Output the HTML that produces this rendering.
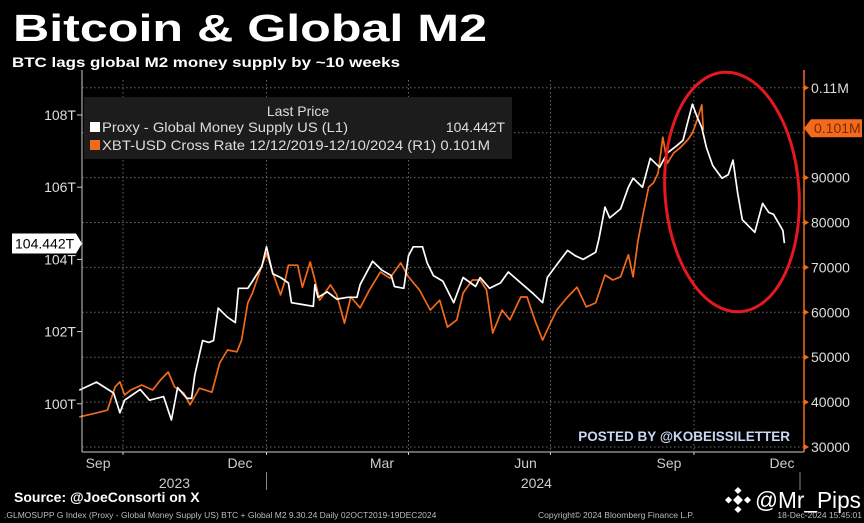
<!DOCTYPE html>
<html><head><meta charset="utf-8"><style>
html,body{margin:0;padding:0;background:#000;}
svg{display:block;}
text{font-family:"Liberation Sans","DejaVu Sans",sans-serif;}
</style></head><body>
<svg id="chart" width="864" height="523" viewBox="0 0 864 523" xmlns="http://www.w3.org/2000/svg">
<rect x="0" y="0" width="864" height="523" fill="#000"/>
<text x="13" y="41" fill="#fff" font-family="DejaVu Sans" font-weight="bold" font-size="38" textLength="474" lengthAdjust="spacingAndGlyphs">Bitcoin &amp; Global M2</text>
<text x="12" y="67" fill="#fff" font-family="DejaVu Sans" font-weight="bold" font-size="14" textLength="388" lengthAdjust="spacingAndGlyphs">BTC lags global M2 money supply by ~10 weeks</text>
<g id="grid"></g>
<rect x="84" y="97" width="428" height="62" fill="#1c1c1c"/>
<text x="298" y="116" fill="#ddd" font-size="14" text-anchor="middle">Last Price</text>
<rect x="90" y="122" width="10" height="10" fill="#fff"/>
<text x="102" y="132" fill="#ddd" font-size="14" textLength="246" lengthAdjust="spacingAndGlyphs">Proxy - Global Money Supply US  (L1)</text>
<text x="505" y="132" fill="#ddd" font-size="14" text-anchor="end">104.442T</text>
<rect x="90" y="140" width="10" height="10" fill="#f26a1b"/>
<text x="102" y="150" fill="#ddd" font-size="14" textLength="388" lengthAdjust="spacingAndGlyphs">XBT-USD Cross Rate 12/12/2019-12/10/2024   (R1) 0.101M</text>
<g id="series"></g>
<g id="axes"></g>
<ellipse cx="732" cy="192" rx="67" ry="120" fill="none" stroke="#e3191f" stroke-width="3" transform="rotate(-4 732 192)"/>
<text x="790" y="441" fill="#c9d8f5" font-size="13.5" font-weight="bold" text-anchor="end">POSTED BY @KOBEISSILETTER</text>
<text x="14" y="502" fill="#fff" font-family="DejaVu Sans" font-weight="bold" font-size="14">Source: @JoeConsorti on X</text>
<text x="4" y="518" fill="#bbb" font-size="8.5">.GLMOSUPP G Index (Proxy - Global Money Supply US) BTC + Global M2 9.30.24  Daily 02OCT2019-19DEC2024</text>
<text x="538" y="518" fill="#bbb" font-size="8.5">Copyright© 2024 Bloomberg Finance L.P.</text>
<text x="862" y="518" fill="#bbb" font-size="8.5" text-anchor="end">18-Dec-2024 15:45:01</text>
<g transform="translate(738,500)" fill="#fff">
<rect x="-3.5" y="-3.5" width="7" height="7" transform="rotate(45)"/>
<rect x="-12" y="-2.5" width="5" height="5" transform="rotate(45 -9.5 0)"/>
<rect x="7" y="-2.5" width="5" height="5" transform="rotate(45 9.5 0)"/>
<rect x="-2.5" y="-12" width="5" height="5" transform="rotate(45 0 -9.5)"/>
<rect x="-2.5" y="7" width="5" height="5" transform="rotate(45 0 9.5)"/>
</g>
<text x="755" y="508" fill="#fff" font-size="23" textLength="106" lengthAdjust="spacingAndGlyphs">@Mr_Pips</text>
</svg>
<script>
// M2 series (days since 1-Oct-2023, trillions USD)
const m2Days = [-28,-17,-6,-2,1,11,17,26,31,35,41,44,46,51,55,58,61,67,72,74,80,83,89,92,96,101,106,108,115,122,123,125,131,137,144,150,152,160,166,172,174,180,183,186,192,195,199,205,212,218,226,229,235,242,247,255,263,269,272,278,285,290,295,303,305,307,309,312,319,324,327,333,338,344,349,355,359,365,368,371,374,378,384,388,391,394,397,405,410,414,417,423,424];
const m2Vals = [100.38,100.6,100.3,99.75,100.1,100.4,100.1,100.2,99.55,100.45,100.15,100.15,100.8,101.75,101.7,101.75,102.65,102.4,102.25,103.2,103.2,103.4,103.8,104.35,103.6,103.5,103.35,102.8,102.75,102.7,103.3,102.95,103.1,102.9,102.95,102.95,103.3,103.95,103.7,103.55,103.25,103.2,104.1,104.35,104.35,103.9,103.55,103.4,102.8,103.5,103.25,103.5,103.2,103.35,103.65,103.35,103.05,102.8,103.5,103.85,104.25,104.1,104.0,104.2,104.55,105.0,105.45,105.15,105.4,106.0,106.25,106.0,106.8,106.55,106.95,107.15,107.3,108.3,107.95,107.65,107.1,106.6,106.25,106.35,106.75,105.85,105.1,104.75,105.55,105.3,105.25,104.8,104.45];
// BTC series (days since 1-Oct-2023 shifted by lag, thousands USD)
const btcDays = [-28,-17,-10,-5,-2,1,5,12,19,24,29,33,39,43,49,57,62,67,73,76,80,83,88,92,96,101,104,106,112,115,120,123,126,133,137,142,146,152,158,165,171,178,183,190,197,203,208,214,218,224,229,233,237,243,248,255,259,264,269,272,278,285,291,297,303,309,314,319,324,327,330,333,337,340,343,346,349,353,357,362,365,368,371,372];
const btcVals = [36.7,37.6,38.2,43.4,44.5,41.6,42.7,43.8,42.7,44.9,46.7,43.4,42.0,39.4,43.1,42.2,48.7,51.6,51.2,53.8,62.1,64.3,69.4,73.2,68.8,63.9,67.2,70.5,70.5,65.6,71.2,67.2,62.7,66.1,63.9,57.6,63.4,61.0,65.0,69.0,67.6,71.0,67.9,65.0,60.5,62.7,56.7,58.3,64.3,67.2,67.2,65.0,55.4,60.5,58.3,63.4,63.4,58.3,53.8,56.1,60.5,63.4,65.6,61.2,62.1,68.3,67.2,67.9,72.8,67.9,75.7,81.2,87.9,88.8,91.0,99.0,93.2,95.5,96.6,98.4,99.9,102.8,106.2,100.6];
const leftTicks = [100,102,104,106,108];
const leftTickLabels = ["100T","102T","104T","106T","108T"];
const rightTicks = [30,40,50,60,70,80,90,110];
const rightTickLabels = ["30000","40000","50000","60000","70000","80000","90000","0.11M"];
const gridDays = [0,92,183,274,366];
const monthDays = [-16,75,166,258,350,441];
const monthLabels = ["Sep","Dec","Mar","Jun","Sep","Dec"];
const yearDays = [33,265];
const yearLabels = ["2023","2024"];
const lastM2Label = "104.442T";
const lastM2 = 104.442;
const lastBtcLabel = "0.101M";
const lastBtc = 101;

const X0=82, X1=804, YT=80, YB=452;
const xS = d => 123 + d*1.56;
const yL = v => 115 + (108 - v)*36.1;
const yR = v => 447 - (v - 30)*4.49;
const NS='http://www.w3.org/2000/svg';
function mk(tag, attrs, parent, txt){
  const e=document.createElementNS(NS,tag);
  for(const k in attrs) e.setAttribute(k, attrs[k]);
  if(txt!==undefined) e.textContent=txt;
  parent.appendChild(e); return e;
}
const grid=document.getElementById('grid'), ser=document.getElementById('series'), ax=document.getElementById('axes');
rightTicks.forEach(v=>{
  const l=mk('line',{x1:X0,x2:X1,y1:yR(v),y2:yR(v),stroke:'#6a6a6a','stroke-width':1,'stroke-dasharray':'1.5 2.5'},grid);
  
  
});
mk('line',{x1:X0,x2:X1,y1:yR(100),y2:yR(100),stroke:'#6a6a6a','stroke-width':1,'stroke-dasharray':'1.5 2.5'},grid);
gridDays.forEach(d=>{
  const l=mk('line',{x1:xS(d),x2:xS(d),y1:YT,y2:YB,stroke:'#6a6a6a','stroke-width':1,'stroke-dasharray':'1.5 2.5'},grid);
  
  
});
function line(days, vals, ys, color, name){
  const p=days.map((d,i)=>(i?'L':'M')+xS(d).toFixed(1)+','+ys(vals[i]).toFixed(1)).join('');
  const e=mk('path',{d:p,fill:'none',stroke:color,'stroke-width':1.7,'stroke-linejoin':'round'},ser);
  
  
}
line(btcDays,btcVals,yR,'#f26a1b','btc-line');
line(m2Days,m2Vals,yL,'#ffffff','m2-line');
let a=mk('line',{x1:X0,x2:X0,y1:YT-10,y2:YB,stroke:'#ccc','stroke-width':1},ax);
 
a=mk('line',{x1:X1,x2:X1,y1:YT-10,y2:YB,stroke:'#f26a1b','stroke-width':1.5},ax);
 
a=mk('line',{x1:X0,x2:X1,y1:YB,y2:YB,stroke:'#ccc','stroke-width':1},ax);
 
leftTicks.forEach((v,i)=>{
  mk('line',{x1:X0-5,x2:X0,y1:yL(v),y2:yL(v),stroke:'#ccc'},ax);
  const t=mk('text',{x:X0-6,y:yL(v)+5,fill:'#ddd','font-size':14,'text-anchor':'end'},ax,leftTickLabels[i]);
  
  
});
rightTicks.forEach((v,i)=>{
  mk('path',{d:`M${X1},${yR(v)-3}L${X1+5},${yR(v)}L${X1},${yR(v)+3}Z`,fill:'#f26a1b'},ax);
  const t=mk('text',{x:X1+7,y:yR(v)+5,fill:'#ddd','font-size':14},ax,rightTickLabels[i]);
  
  
});
monthDays.forEach((d,i)=>{
  const t=mk('text',{x:Math.min(xS(d),782),y:468,fill:'#ccc','font-size':14,'text-anchor':'middle'},ax,monthLabels[i]);
  
  
});
gridDays.forEach(d=>{ mk('line',{x1:xS(d),x2:xS(d),y1:YB,y2:YB+3,stroke:'#ccc'},ax); });
mk('line',{x1:xS(92),x2:xS(92),y1:YB+20,y2:YB+38,stroke:'#888'},ax);
mk('line',{x1:X1-4,x2:X1-4,y1:YB+20,y2:YB+38,stroke:'#888'},ax);
yearDays.forEach((d,i)=>{
  const t=mk('text',{x:xS(d),y:488,fill:'#ccc','font-size':14,'text-anchor':'middle'},ax,yearLabels[i]);
  
  
});
const yl=yL(lastM2);
let g=mk('path',{d:`M12,${yl-10}H76L82,${yl}L76,${yl+10}H12Z`,fill:'#fff'},ax);
 
let tt=mk('text',{x:15,y:yl+5,fill:'#000','font-size':14},ax,lastM2Label);
 
const yr=yR(lastBtc);
g=mk('path',{d:`M${X1},${yr}L${X1+7},${yr-9}H862V${yr+9}H${X1+7}Z`,fill:'#f26a1b'},ax);
 
tt=mk('text',{x:X1+10,y:yr+5,fill:'#7a2a00','font-size':14},ax,lastBtcLabel);
 
</script>
</body></html>
